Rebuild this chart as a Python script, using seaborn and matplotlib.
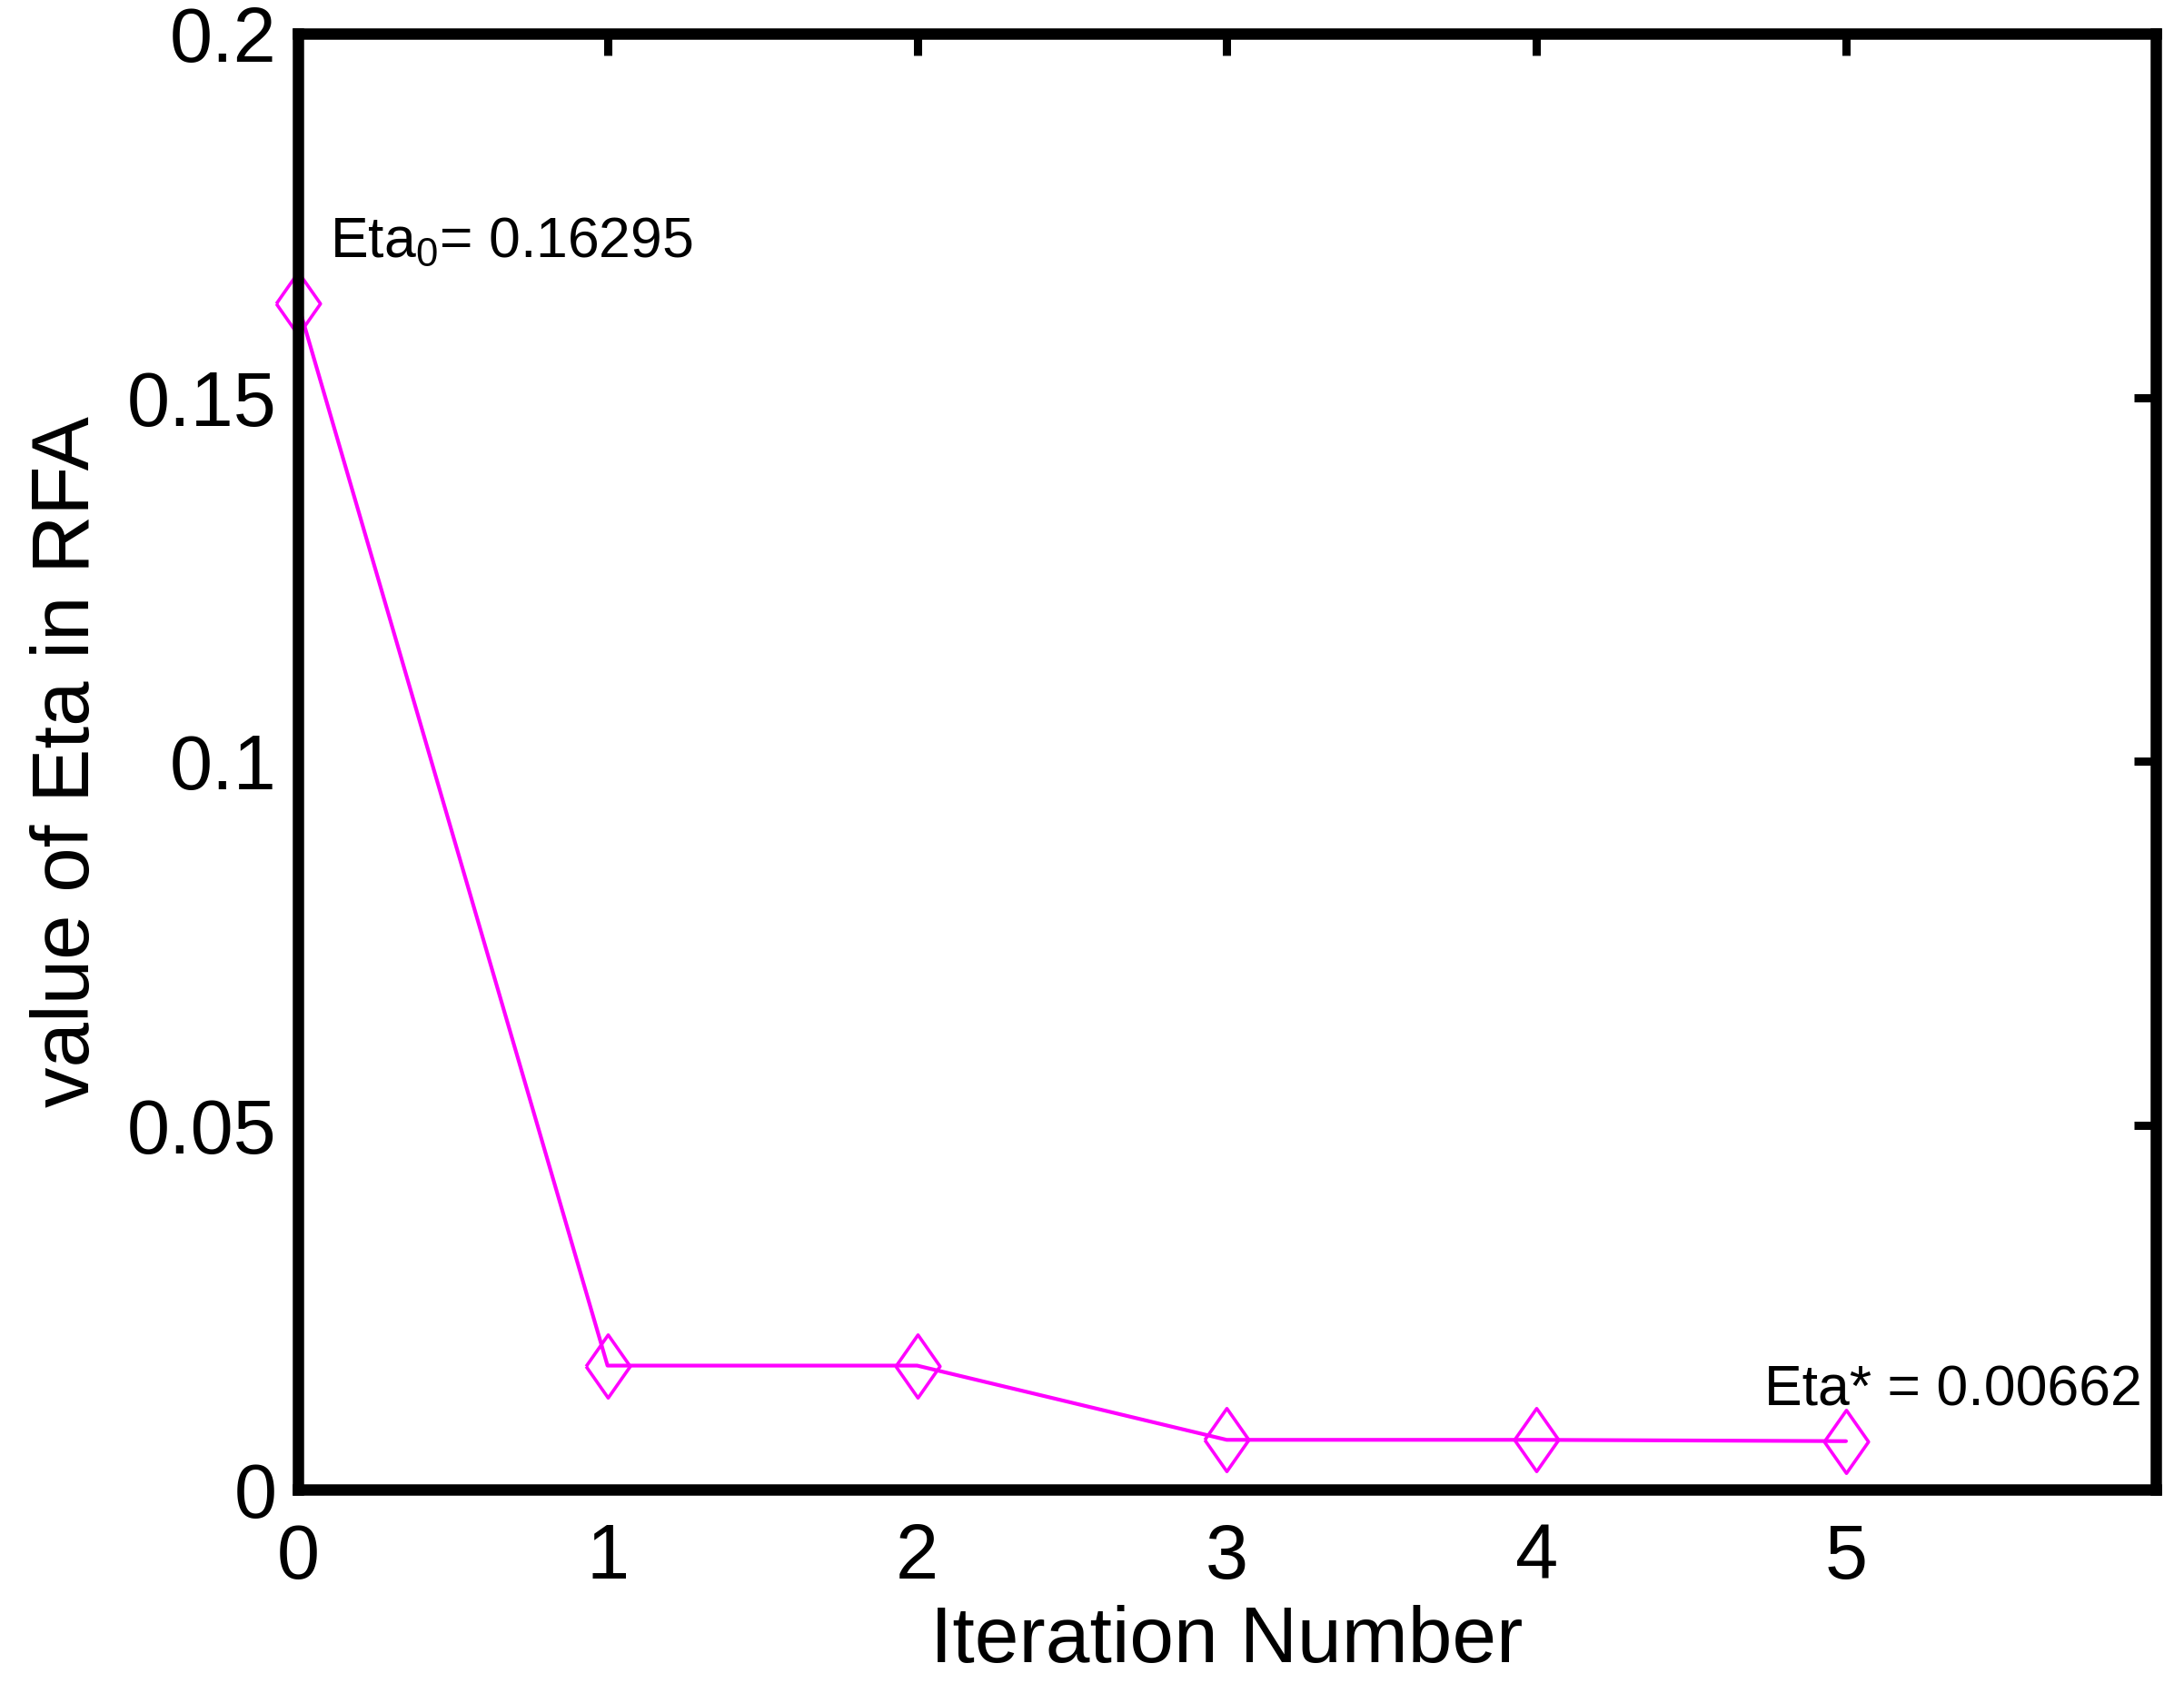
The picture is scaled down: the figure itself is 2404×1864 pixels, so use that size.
import numpy as np
import pandas as pd
import matplotlib
matplotlib.use("Agg")
import matplotlib.pyplot as plt
import seaborn as sns

# data
iteration = [0, 1, 2, 3, 4, 5]
eta = [0.16295, 0.0170, 0.0170, 0.0068, 0.0068, 0.00662]
x_ticks = [0, 1, 2, 3, 4, 5]
y_ticks = [0, 0.05, 0.1, 0.15, 0.2]
y_tick_labels = ["0", "0.05", "0.1", "0.15", "0.2"]

df = pd.DataFrame({"iter": iteration, "eta": eta})

sns.set_style("white")
plt.rcParams["font.family"] = ["Liberation Sans", "DejaVu Sans"]
plt.rcParams["mathtext.fontset"] = "custom"
plt.rcParams["mathtext.rm"] = "Liberation Sans"
for k in ["text.color", "axes.labelcolor", "xtick.color", "ytick.color"]:
    plt.rcParams[k] = "black"

fig = plt.figure(figsize=(24.04, 18.64), dpi=100)
ax = fig.add_axes([0.1364, 0.1203, 0.8506, 0.8598])

# wide open diamond like matlab's 'd'
diamond = [(-0.7, 0), (0, 1), (0.7, 0), (0, -1), (-0.7, 0)]
sns.lineplot(data=df, x="iter", y="eta", ax=ax, color="#ff00ff", linewidth=3,
             marker=diamond, markersize=50, markerfacecolor="none",
             markeredgecolor="#ff00ff", markeredgewidth=2.6, clip_on=False)

ax.set_xlim(0, 6)
ax.set_ylim(0, 0.2)
ax.set_xticks(x_ticks)
ax.set_xticklabels([str(t) for t in x_ticks])
ax.set_yticks(y_ticks)
ax.set_yticklabels(y_tick_labels)

for s in ax.spines.values():
    s.set_linewidth(9)
    s.set_color("black")
    s.set_visible(True)

ax.tick_params(direction="in", length=17, width=6.5, color="black",
               top=True, right=True, labelsize=61, pad=17)
ax.tick_params(axis="x", pad=26)

ax.set_xlabel("Iteration Number", fontsize=63, labelpad=8)
ax.set_ylabel("value of Eta in RFA", fontsize=64, labelpad=16)

ax.text(0.104, 0.1694, r"Eta$_\mathregular{0}$= 0.16295", fontsize=45,
        va="baseline", ha="left")
ax.text(4.735, 0.0115, "Eta* = 0.00662", fontsize=45, va="baseline", ha="left")

fig.savefig("out.png", dpi=100)
